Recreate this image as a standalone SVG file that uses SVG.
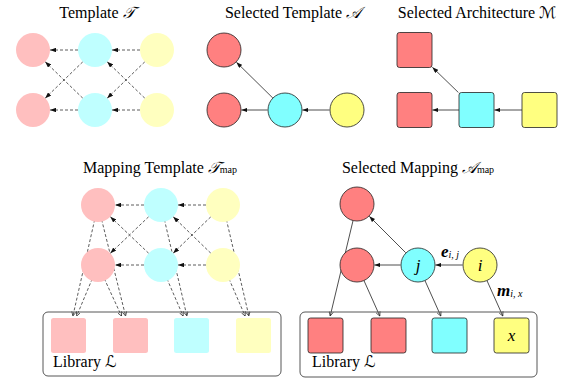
<svg xmlns="http://www.w3.org/2000/svg" width="576" height="381" viewBox="0 0 576 381">
  <style>
    .title { font-family: "Liberation Serif", "Times New Roman", serif; font-size: 16px; fill: #000; text-anchor: middle; }
    .cal { font-family: "DejaVu Serif", "DejaVu Sans", "Liberation Serif", serif; font-style: italic; }
    .sub { font-size: 10px; }
    .lbl { font-family: "Liberation Serif", "Times New Roman", serif; font-size: 16px; fill: #000; }
    .var { font-family: "Liberation Serif", "Times New Roman", serif; font-style: italic; font-size: 17px; fill: #000; text-anchor: middle; }
    .bv { font-family: "Liberation Serif", "Times New Roman", serif; font-style: italic; font-weight: bold; font-size: 17px; fill: #000; }
    .bsub { font-weight: normal; font-size: 10px; }
    .dash { stroke: #333; stroke-width: 0.8; stroke-dasharray: 3 2; fill: none; }
    .solid { stroke: #222; stroke-width: 0.8; fill: none; }
    .pk { fill: #FFBFBF; }
    .cy { fill: #BFFFFF; }
    .yl { fill: #FFFFBF; }
    .rd { fill: #FF8080; stroke: #222; stroke-width: 0.8; }
    .cs { fill: #80FFFF; stroke: #222; stroke-width: 0.8; }
    .ys { fill: #FFFF80; stroke: #222; stroke-width: 0.8; }
    .lib { fill: none; stroke: #444; stroke-width: 0.9; }
    .tri-arrow { marker-end: url(#tri); }
    .vee-arrow { marker-end: url(#vee); }
  </style>
  <defs>
    <marker id="tri" viewBox="0 0 6 4.4" refX="6" refY="2.2" markerWidth="6" markerHeight="4.4" markerUnits="userSpaceOnUse" orient="auto">
      <path d="M0,0 L6,2.2 L0,4.4 z" fill="#111"/>
    </marker>
    <marker id="vee" viewBox="0 0 5 5" refX="4.6" refY="2.5" markerWidth="5" markerHeight="5" markerUnits="userSpaceOnUse" orient="auto">
      <path d="M0.4,0.4 L4.6,2.5 L0.4,4.6" fill="none" stroke="#222" stroke-width="0.7"/>
    </marker>
  </defs>

  <!-- panel titles -->
  <text class="title" x="97" y="18">Template <tspan class="cal">𝒯</tspan></text>
  <text class="title" x="293" y="18">Selected Template <tspan class="cal">𝒜</tspan></text>
  <text class="title" x="477" y="18">Selected Architecture <tspan class="cal">ℳ</tspan></text>
  <text class="title" x="160" y="173">Mapping Template <tspan class="cal">𝒯</tspan><tspan class="sub">map</tspan></text>
  <text class="title" x="418" y="173">Selected Mapping <tspan class="cal">𝒜</tspan><tspan class="sub">map</tspan></text>

  <!-- connectors -->
  <g id="connectors">
    <!-- template T -->
    <line class="dash tri-arrow" x1="78" y1="50" x2="50" y2="50"/>
    <line class="dash tri-arrow" x1="78" y1="110" x2="50" y2="110"/>
    <line class="dash tri-arrow" x1="140" y1="50" x2="112" y2="50"/>
    <line class="dash tri-arrow" x1="140" y1="110" x2="112" y2="110"/>
    <line class="dash tri-arrow" x1="82.8" y1="61.8" x2="45.2" y2="98.2"/>
    <line class="dash tri-arrow" x1="82.8" y1="98.2" x2="45.2" y2="61.8"/>
    <line class="dash tri-arrow" x1="144.8" y1="61.8" x2="107.2" y2="98.2"/>
    <line class="dash tri-arrow" x1="144.8" y1="98.2" x2="107.2" y2="61.8"/>

    <!-- selected template A -->
    <line class="solid tri-arrow" x1="272.9" y1="98.1" x2="236.4" y2="62.2"/>
    <line class="solid tri-arrow" x1="267.6" y1="110" x2="241.4" y2="110"/>
    <line class="solid tri-arrow" x1="329.6" y1="110" x2="302.4" y2="110"/>

    <!-- selected architecture M -->
    <line class="solid tri-arrow" x1="458.4" y1="92.5" x2="432.4" y2="67.3"/>
    <line class="solid tri-arrow" x1="459" y1="110" x2="432.4" y2="110"/>
    <line class="solid tri-arrow" x1="522" y1="110" x2="494.4" y2="110"/>

    <!-- mapping template -->
    <line class="dash tri-arrow" x1="144" y1="205" x2="115" y2="205"/>
    <line class="dash tri-arrow" x1="144" y1="265" x2="115" y2="265"/>
    <line class="dash tri-arrow" x1="206" y1="205" x2="178" y2="205"/>
    <line class="dash tri-arrow" x1="206" y1="265" x2="178" y2="265"/>
    <line class="dash tri-arrow" x1="148.7" y1="216.7" x2="110.3" y2="253.3"/>
    <line class="dash tri-arrow" x1="148.7" y1="253.3" x2="110.3" y2="216.7"/>
    <line class="dash tri-arrow" x1="210.8" y1="216.8" x2="173.2" y2="253.2"/>
    <line class="dash tri-arrow" x1="210.8" y1="253.2" x2="173.2" y2="216.8"/>
    <line class="dash vee-arrow" x1="98" y1="205" x2="72.9" y2="316"/>
    <line class="dash vee-arrow" x1="98" y1="265" x2="76.7" y2="316"/>
    <line class="dash vee-arrow" x1="98" y1="205" x2="125.6" y2="316"/>
    <line class="dash vee-arrow" x1="98" y1="265" x2="121.5" y2="316"/>
    <line class="dash vee-arrow" x1="161" y1="205" x2="186.9" y2="316"/>
    <line class="dash vee-arrow" x1="161" y1="265" x2="183.1" y2="316"/>
    <line class="dash vee-arrow" x1="223" y1="205" x2="248.9" y2="316"/>
    <line class="dash vee-arrow" x1="223" y1="265" x2="245.1" y2="316"/>

    <!-- selected mapping -->
    <line class="solid tri-arrow" x1="405.7" y1="252.7" x2="369.3" y2="216.3"/>
    <line class="solid tri-arrow" x1="400.6" y1="265" x2="374.4" y2="265"/>
    <line class="solid tri-arrow" x1="462.6" y1="265" x2="435.4" y2="265"/>
    <line class="solid vee-arrow" x1="357" y1="204" x2="330.2" y2="316"/>
    <line class="solid vee-arrow" x1="357" y1="265" x2="379.8" y2="316"/>
    <line class="solid vee-arrow" x1="418" y1="265" x2="440.8" y2="316"/>
    <line class="solid vee-arrow" x1="480" y1="265" x2="502.8" y2="316"/>
  </g>

  <!-- template T nodes -->
  <g id="t-p1"><circle class="pk" cx="33" cy="50" r="17"/></g>
  <g id="t-p2"><circle class="pk" cx="33" cy="110" r="17"/></g>
  <g id="t-c1"><circle class="cy" cx="95" cy="50" r="17"/></g>
  <g id="t-c2"><circle class="cy" cx="95" cy="110" r="17"/></g>
  <g id="t-y1"><circle class="yl" cx="157" cy="50" r="17"/></g>
  <g id="t-y2"><circle class="yl" cx="157" cy="110" r="17"/></g>

  <!-- selected template A nodes -->
  <g id="a-r1"><circle class="rd" cx="224" cy="50" r="17"/></g>
  <g id="a-r2"><circle class="rd" cx="224" cy="110" r="17"/></g>
  <g id="a-c"><circle class="cs" cx="285" cy="110" r="17"/></g>
  <g id="a-y"><circle class="ys" cx="347" cy="110" r="17"/></g>

  <!-- selected architecture M nodes -->
  <g id="m-r1"><rect class="rd" x="397" y="32.5" width="35" height="35" rx="2.5"/></g>
  <g id="m-r2"><rect class="rd" x="397" y="92.5" width="35" height="35" rx="2.5"/></g>
  <g id="m-c"><rect class="cs" x="459" y="92.5" width="35" height="35" rx="2.5"/></g>
  <g id="m-y"><rect class="ys" x="522" y="92.5" width="35" height="35" rx="2.5"/></g>

  <!-- mapping template nodes -->
  <g id="mt-p1"><circle class="pk" cx="98" cy="205" r="17"/></g>
  <g id="mt-p2"><circle class="pk" cx="98" cy="265" r="17"/></g>
  <g id="mt-c1"><circle class="cy" cx="161" cy="205" r="17"/></g>
  <g id="mt-c2"><circle class="cy" cx="161" cy="265" r="17"/></g>
  <g id="mt-y1"><circle class="yl" cx="223" cy="205" r="17"/></g>
  <g id="mt-y2"><circle class="yl" cx="223" cy="265" r="17"/></g>

  <!-- library for mapping template -->
  <g id="mt-library">
    <rect class="lib" x="43" y="312" width="238" height="64" rx="5"/>
    <rect class="pk" x="51" y="318" width="35" height="35" rx="2.5"/>
    <rect class="pk" x="113" y="318" width="35" height="35" rx="2.5"/>
    <rect class="cy" x="174" y="318" width="35" height="35" rx="2.5"/>
    <rect class="yl" x="236" y="318" width="35" height="35" rx="2.5"/>
    <text class="lbl" x="53" y="367">Library <tspan class="cal">ℒ</tspan></text>
  </g>

  <!-- selected mapping nodes -->
  <g id="sm-r1"><circle class="rd" cx="357" cy="204" r="17"/></g>
  <g id="sm-r2"><circle class="rd" cx="357" cy="265" r="17"/></g>
  <g id="sm-j"><circle class="cs" cx="418" cy="265" r="17"/><text class="var" x="418" y="271">j</text></g>
  <g id="sm-i"><circle class="ys" cx="480" cy="265" r="17"/><text class="var" x="480" y="271">i</text></g>

  <!-- edge labels -->
  <text class="bv" x="441" y="257">e<tspan class="bsub" dy="1">i, j</tspan></text>
  <text class="bv" x="497" y="296">m<tspan class="bsub" dy="1">i, x</tspan></text>

  <!-- library for selected mapping -->
  <g id="sm-library">
    <rect class="lib" x="300" y="312" width="237" height="65" rx="5"/>
    <rect class="rd" x="308" y="318" width="35" height="35" rx="2.5"/>
    <rect class="rd" x="371" y="318" width="35" height="35" rx="2.5"/>
    <rect class="cs" x="432" y="318" width="35" height="35" rx="2.5"/>
    <rect class="ys" x="494" y="318" width="35" height="35" rx="2.5"/>
    <text class="var" x="511.5" y="341">x</text>
    <text class="lbl" x="312" y="367">Library <tspan class="cal">ℒ</tspan></text>
  </g>
</svg>
